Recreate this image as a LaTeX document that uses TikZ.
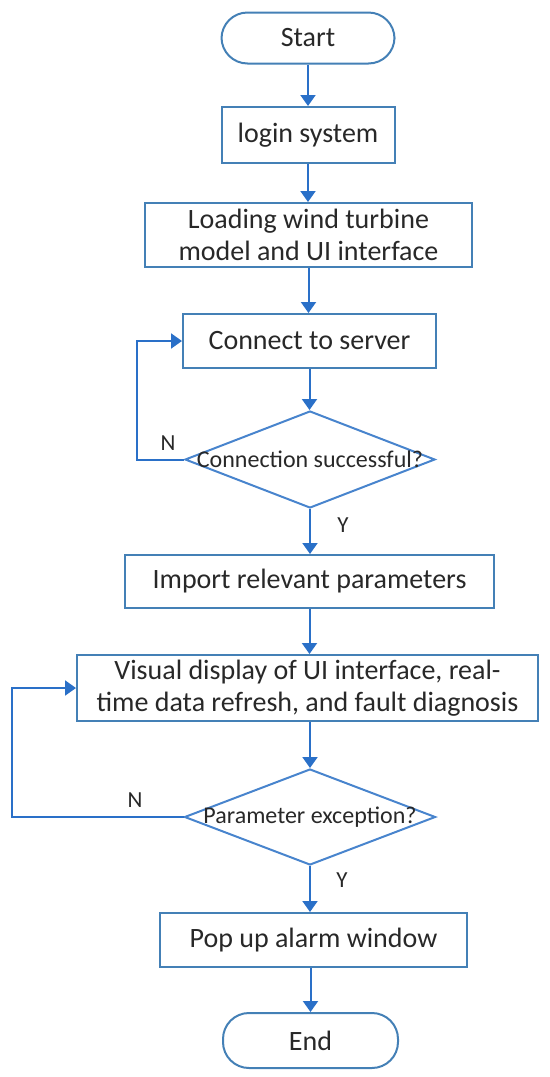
\documentclass[tikz,border=0pt]{standalone}
\usepackage{fontspec}
\setmainfont{Carlito}
\usetikzlibrary{shapes.geometric,arrows.meta}
\definecolor{marco}{RGB}{68,128,182}
\definecolor{flecha}{RGB}{42,112,200}
\definecolor{rombo}{RGB}{72,132,205}
\definecolor{texto}{RGB}{40,40,40}

\begin{document}
\begin{tikzpicture}[x=.5pt, y=-.5pt,
    every node/.style={font=\fontsize{14}{16}\selectfont, text=texto},
    caja/.style={draw=marco, line width=1pt, inner sep=0pt, align=center},
    terminal/.style={caja, rounded corners=13pt},
    decision/.style={diamond, draw=rombo, line width=1pt, inner sep=0pt,
        font=\fontsize{12}{14}\selectfont},
    flujo/.style={draw=flecha, line width=1pt,
        -{Triangle[length=5.5pt,width=7.5pt]}},
    rama/.style={font=\fontsize{11.5}{13}\selectfont}]
    \useasboundingbox (0,0) rectangle (550,1077);

    % Inicio y pasos de preparación.
    \node[terminal, minimum width=86.5pt, minimum height=25.5pt] (start) at (308,38) {Start};
    \node[caja, minimum width=86.5pt, minimum height=28pt] (login) at (308,135) {login system};
    \node[caja, minimum width=163.5pt, minimum height=32pt] (loading) at (308.5,235)
        {Loading wind turbine\\model and UI interface};
    \node[caja, minimum width=126.5pt, minimum height=27pt] (connect) at (309.5,341) {Connect to server};
    \node[decision, minimum width=125pt, minimum height=48.5pt] (cond1) at (310,459.5)
        {\makebox[0pt]{Connection successful?}};

    % Importación y visualización de los datos.
    \node[caja, minimum width=184.5pt, minimum height=26.5pt] (import) at (309.5,581.5)
        {Import relevant parameters};
    \node[caja, minimum width=230.5pt, minimum height=33pt] (visual) at (307.5,688)
        {Visual display of UI interface, real-\\time data refresh, and fault diagnosis};
    \node[decision, minimum width=125.5pt, minimum height=48pt] (cond2) at (310,817)
        {\makebox[0pt]{Parameter exception?}};

    % Alarma y fin.
    \node[caja, minimum width=153.5pt, minimum height=27pt] (popup) at (313.5,940) {Pop up alarm window};
    \node[terminal, minimum width=87.5pt, minimum height=27.5pt] (end) at (310.5,1040.5) {End};

    % Flechas del recorrido principal.
    \draw[flujo] (start) -- (login);
    \draw[flujo] (login) -- (login |- loading.north);
    \draw[flujo] (loading) -- (loading |- connect.north);
    \draw[flujo] (connect) -- (connect |- cond1.north);
    \draw[flujo] (cond1) -- (cond1 |- import.north);
    \draw[flujo] (import) -- (import |- visual.north);
    \draw[flujo] (visual.south -| cond2) -- (cond2);
    \draw[flujo] (cond2) -- (cond2 |- popup.north);
    \draw[flujo] (popup.south -| end) -- (end);

    % Lazos de repetición (rama N).
    \coordinate (retorno1) at (137,459.5);
    \coordinate (retorno2) at (12,817);
    \draw[flujo] (cond1.west) -- (retorno1) |- (connect.west);
    \draw[flujo] (cond2.west) -- (retorno2) |- (visual.west);

    % Etiquetas de las ramas.
    \node[rama] (n1) at (168,443) {N};
    \node[rama] (y1) at (343,525) {Y};
    \node[rama] (n2) at (135,800) {N};
    \node[rama] (y2) at (342,880) {Y};
\end{tikzpicture}
\end{document}
